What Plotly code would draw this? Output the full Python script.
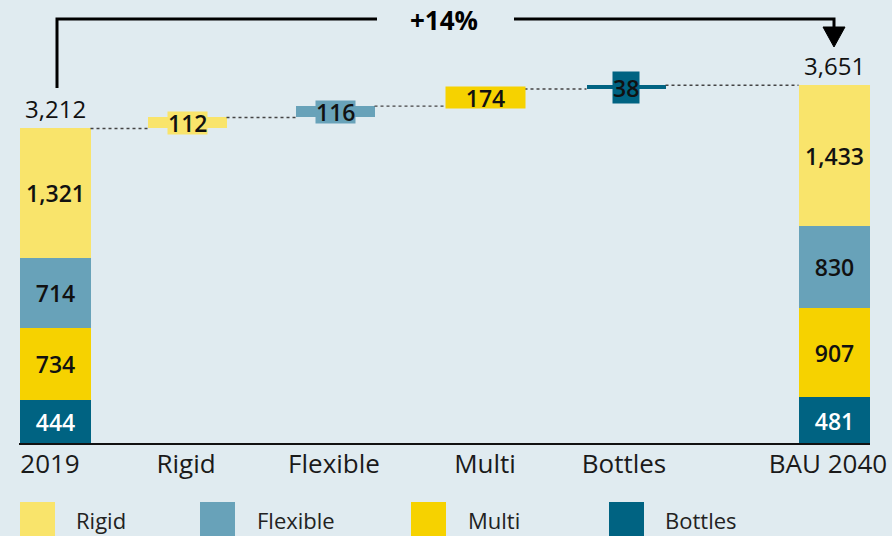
import plotly.graph_objects as go

# ---------------- data ----------------
categories = ["2019", "Rigid", "Flexible", "Multi", "Bottles", "BAU 2040"]
series = ["Rigid", "Flexible", "Multi", "Bottles"]
values_2019 = [1321, 714, 734, 444]
changes = [112, 116, 174, 38]
values_2040 = [1433, 830, 907, 481]
total_2019 = 3212
total_2040 = 3651
change_label = "+14%"

# ---------------- style / layout ----------------
colors = ["#f9e46b", "#68a2b9", "#f6d200", "#006382"]
label_colors = ["#111111", "#111111", "#111111", "#ffffff"]
bg = "#e0ebf0"
FONT = "Open Sans"
W, H = 892, 536
PLOT_H = 444
Y_MAX = 4520

bar_x = [55, 187, 335, 485, 626, 834]
tick_x = [50, 186, 334, 485, 624, 828]
total_w = 71
step_w = 79


def px(p):
    return p / W


def py(p):
    return (PLOT_H - p) / PLOT_H


# stacked bases (stack bottom -> top: Bottles, Multi, Flexible, Rigid)
def stack_bases(vals):
    bases = [0] * len(vals)
    run = 0
    for i in reversed(range(len(vals))):
        bases[i] = run
        run += vals[i]
    return bases


b2019 = stack_bases(values_2019)
b2040 = stack_bases(values_2040)

step_bases = []
run = total_2019
for c in changes:
    step_bases.append(run)
    run += c

fig = go.Figure()
for i, s in enumerate(series):
    fig.add_trace(go.Bar(
        name=s,
        x=[bar_x[0], bar_x[i + 1], bar_x[5]],
        y=[values_2019[i], changes[i], values_2040[i]],
        base=[b2019[i], step_bases[i], b2040[i]],
        width=[total_w, step_w, total_w],
        marker=dict(color=colors[i], line=dict(width=0)),
        text=[f"{values_2019[i]:,}", "", f"{values_2040[i]:,}"],
        textposition="inside",
        insidetextanchor="middle",
        constraintext="none",
        textfont=dict(family=FONT, size=23, color=label_colors[i], weight=600),
        showlegend=False,
        hoverinfo="skip",
    ))

shapes = []
annotations = []

# connectors (dotted) between steps
levels = [total_2019] + [step_bases[i] + changes[i] for i in range(len(changes))]
widths = [total_w] + [step_w] * 4 + [total_w]
for i, lvl in enumerate(levels):
    x0 = bar_x[i] + widths[i] / 2
    x1 = bar_x[i + 1] - widths[i + 1] / 2
    shapes.append(dict(type="line", xref="x", yref="y", x0=x0, x1=x1, y0=lvl, y1=lvl,
                       line=dict(color="#444444", width=1.3, dash="dot")))

# step labels with background boxes
box_w = [None, None, step_w, None]
box_h = [22, 22, 21, 31]
for i, c in enumerate(changes):
    ann = dict(
        x=bar_x[i + 1], y=step_bases[i] + c / 2, xref="x", yref="y",
        text=f"{c:,}", showarrow=False, bgcolor=colors[i], borderpad=0,
        height=box_h[i],
        font=dict(family=FONT, size=23, color="#111111", weight=600),
    )
    if box_w[i]:
        ann["width"] = box_w[i]
    annotations.append(ann)

# totals
annotations.append(dict(x=bar_x[0], y=total_2019, xref="x", yref="y", yanchor="bottom",
                        text=f"{total_2019:,}", showarrow=False, yshift=1,
                        font=dict(family=FONT, size=24, color="#111111")))
annotations.append(dict(x=bar_x[5], y=total_2040, xref="x", yref="y", yanchor="bottom",
                        text=f"{total_2040:,}", showarrow=False, yshift=1,
                        font=dict(family=FONT, size=24, color="#111111")))

# baseline axis
shapes.append(dict(type="line", xref="paper", yref="paper", x0=px(19), x1=px(870),
                   y0=py(444), y1=py(444), line=dict(color="#111111", width=2)))

# bracket with arrow
shapes.append(dict(type="path", xref="paper", yref="paper",
                   path=f"M {px(57)},{py(88)} L {px(57)},{py(19)} L {px(377)},{py(19)}",
                   line=dict(color="#000000", width=3)))
shapes.append(dict(type="path", xref="paper", yref="paper",
                   path=f"M {px(514)},{py(19)} L {px(834)},{py(19)} L {px(834)},{py(30)}",
                   line=dict(color="#000000", width=3)))
shapes.append(dict(type="path", xref="paper", yref="paper",
                   path=f"M {px(823)},{py(27)} L {px(845)},{py(27)} L {px(834)},{py(47)} Z",
                   fillcolor="#000000", line=dict(color="#000000", width=1)))
annotations.append(dict(x=px(444), y=py(20), xref="paper", yref="paper",
                        xanchor="center", yanchor="middle", text=f"<b>{change_label}</b>",
                        showarrow=False, font=dict(family=FONT, size=26, color="#000000")))

# custom legend
leg_sq_x = [20, 200, 411, 609]
leg_txt_x = [74, 255, 466, 663]
for i, s in enumerate(series):
    shapes.append(dict(type="rect", xref="paper", yref="paper",
                       x0=px(leg_sq_x[i]), x1=px(leg_sq_x[i] + 35), y0=py(502), y1=py(540),
                       fillcolor=colors[i], line=dict(width=0)))
    annotations.append(dict(x=px(leg_txt_x[i]), y=py(520), xref="paper", yref="paper",
                            xanchor="left", yanchor="middle", text=s, showarrow=False,
                            font=dict(family=FONT, size=22, color="#222222")))

fig.update_layout(
    width=W, height=H,
    margin=dict(l=0, r=0, t=0, b=H - PLOT_H),
    paper_bgcolor=bg, plot_bgcolor=bg,
    barmode="overlay",
    bargap=0,
    xaxis=dict(range=[0, W], tickvals=tick_x, ticktext=categories, showgrid=False,
               zeroline=False, showline=False, ticks="", ticklabelstandoff=2,
               tickfont=dict(family=FONT, size=26, color="#1a1a1a"), fixedrange=True),
    yaxis=dict(range=[0, Y_MAX], visible=False, showgrid=False, zeroline=False, fixedrange=True),
    shapes=shapes,
    annotations=annotations,
    showlegend=False,
)

fig.write_html(
    "out.html",
    config={"displayModeBar": False},
    post_script="document.body.style.margin='0';document.body.style.padding='0';"
                "document.body.style.background='" + bg + "';",
)
